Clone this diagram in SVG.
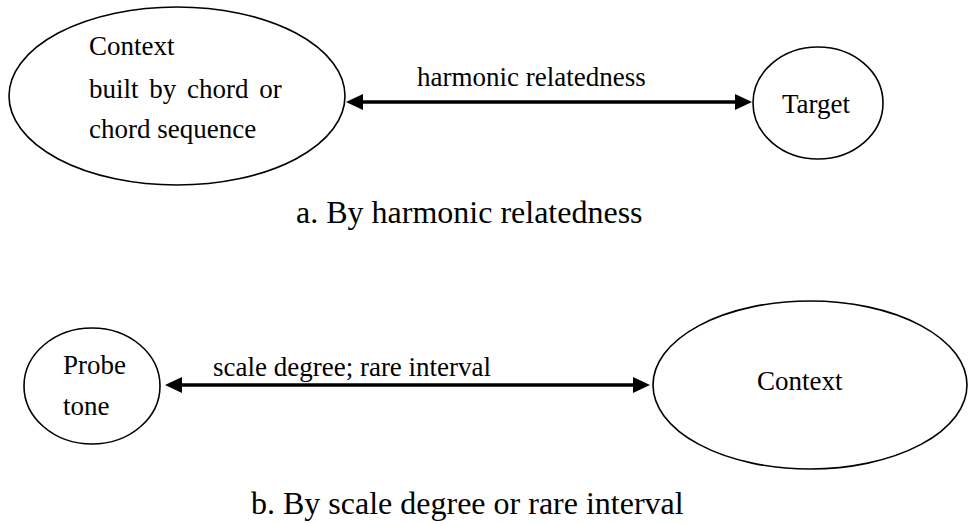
<svg xmlns="http://www.w3.org/2000/svg" width="968" height="524" viewBox="0 0 968 524">
<style>
.node{fill:#fff;stroke:#000;stroke-width:1.6}
.t{font-family:"Liberation Serif","Times New Roman",serif;font-size:27px;fill:#000}
.cap{font-family:"Liberation Serif","Times New Roman",serif;font-size:32px;fill:#000}
.edge{stroke:#000;stroke-width:3.5;fill:none;marker-start:url(#ah);marker-end:url(#ah)}
</style>
<defs>
<marker id="ah" viewBox="0 0 17 16" refX="7" refY="8" markerWidth="17" markerHeight="16" markerUnits="userSpaceOnUse" orient="auto-start-reverse">
<path d="M0,0 L17,8 L0,16 z" fill="#000"/>
</marker>
</defs>
<rect width="968" height="524" fill="#fff"/>
<g id="connectors">
<line class="edge" x1="356" y1="102" x2="742" y2="102"/>
<text class="t" x="417" y="86">harmonic relatedness</text>
<line class="edge" x1="175" y1="385" x2="640" y2="385"/>
<text class="t" x="213" y="376">scale degree; rare interval</text>
</g>
<g id="context-a">
<ellipse class="node" cx="177" cy="96" rx="168" ry="89"/>
<text class="t" x="89" y="55">Context</text>
<text class="t" x="89" y="98" word-spacing="4">built by chord or</text>
<text class="t" x="89" y="138">chord sequence</text>
</g>
<g id="target">
<ellipse class="node" cx="818" cy="103" rx="65" ry="56"/>
<text class="t" x="782" y="113">Target</text>
</g>
<g id="probe-tone">
<ellipse class="node" cx="92" cy="386" rx="68" ry="58"/>
<text class="t" x="63" y="374">Probe</text>
<text class="t" x="63" y="415">tone</text>
</g>
<g id="context-b">
<ellipse class="node" cx="810" cy="385" rx="157" ry="84"/>
<text class="t" x="757" y="390">Context</text>
</g>
<g id="captions">
<text class="cap" x="296" y="223">a. By harmonic relatedness</text>
<text class="cap" x="251" y="514">b. By scale degree or rare interval</text>
</g>
</svg>
